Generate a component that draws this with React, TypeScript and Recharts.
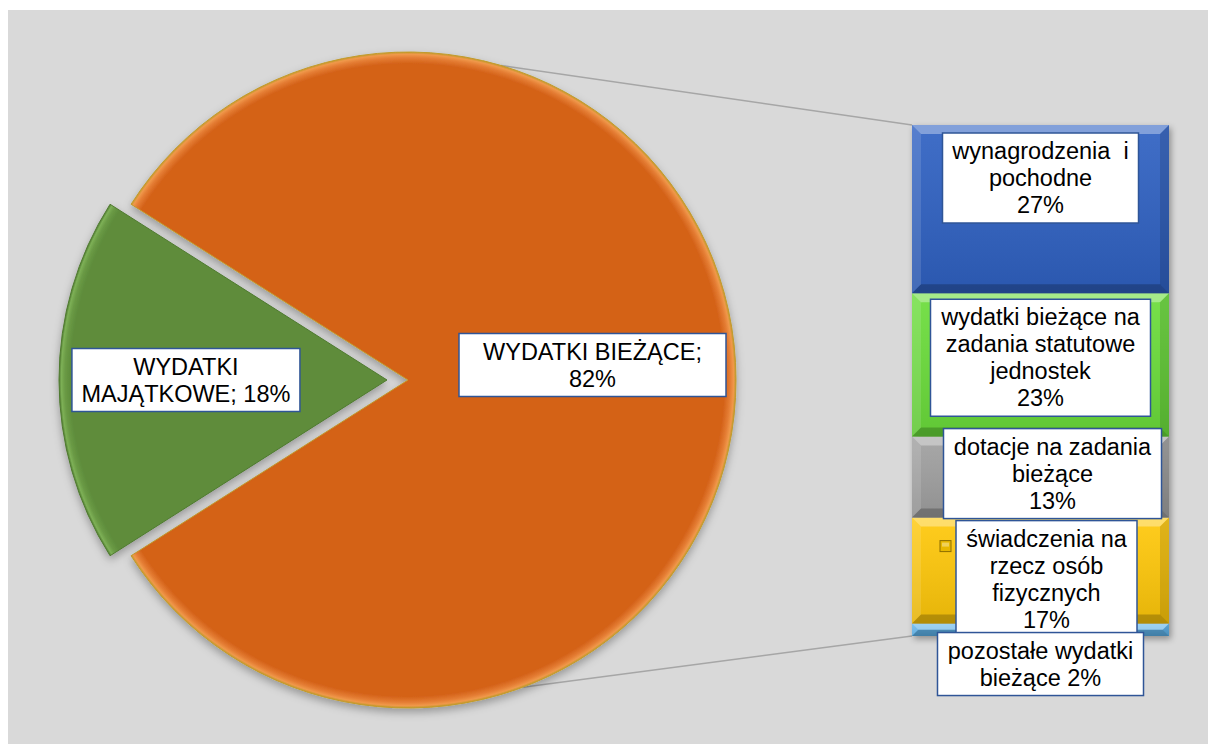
import React from "react";
import { PieChart, Pie, Cell, BarChart, Bar, XAxis, YAxis, LabelList } from "recharts";

// dane - koło
const pieNames = ["WYDATKI BIEŻĄCE;", "WYDATKI\nMAJĄTKOWE;"];
const pieValues = [82, 18];
const pieSep = ["\n", " "];

// dane - słupek (od dołu do góry)
const barNames = [
  "pozostałe wydatki\nbieżące",
  "świadczenia na\nrzecz osób\nfizycznych",
  "dotacje na zadania\nbieżące",
  "wydatki bieżące na\nzadania statutowe\njednostek",
  "wynagrodzenia  i\npochodne",
];
const barValues = [2, 17, 13, 23, 27];
const barSep = [" ", "\n", "\n", "\n", "\n"];

const pieColors = ["#D46219", "#5E8C3B"];
const pieRims = [
  ["#E47C33", "#F0984A", "#C29A2A"],
  ["#6A9A45", "#7DB056", "#4F7A30"],
];
const barColors = ["#5CB4EE", "#FFC80A", "#A0A0A0", "#6BDD3B", "#2F61C2"];

// wygląd etykiet
const pieLabelStyle = [
  { r: 0.5625, dy: -15, width: 267 },
  { r: 0.613, dy: 0, width: 228 },
];
const barLabelStyle = [
  { dy: 9, dx: 0, width: 206, key: false },
  { dy: 3, dx: 6, width: 181, key: true },
  { dy: -8, dx: 12, width: 218, key: false },
  { dy: 6, dx: 0, width: 220, key: false },
  { dy: 8, dx: 0, width: 196, key: false },
];

const W = 1200;
const H = 734;
const FONT = "'Liberation Sans', Arial, sans-serif";
const FONT_SIZE = 23.5;
const LINE_H = 27;

const PIE_CX = 400;
const PIE_CY = 370;
const PIE_R = 328;
const EXPLODE = 21;
const START = 180 + (pieValues[1] / 100) * 180;
const CONNECT_ANGLES = [73.5, -69.5];

const BAR_LEFT = 904;
const BAR_TOP = 115;
const BAR_W = 257;
const BAR_H = 511;
const BAR_MARGIN = { top: 20, right: 30, bottom: 90, left: 20 };

const pieData = pieNames.map((name, i) => ({ name, value: pieValues[i] }));
const barRow: Record<string, any> = { name: "WYDATKI BIEŻĄCE" };
barValues.forEach((v, i) => (barRow[`s${i}`] = v));
const barData = [barRow];
const barTotal = barValues.reduce((a, b) => a + b, 0);

const LabelBox = ({ cx, top, width, lines, keyColor }: any) => {
  const h = lines.length * LINE_H + 9;
  const left = cx - width / 2;
  return (
    <g>
      <rect x={left} y={top} width={width} height={h} fill="#fff" stroke="#2F5597" strokeWidth={1.5} />
      {keyColor && (
        <g>
          <rect x={left - 16} y={top + 20} width={11} height={11} fill={keyColor} stroke="#8C6D00" strokeWidth={1} />
          <rect x={left - 14} y={top + 22} width={7} height={4} fill="#fff" fillOpacity={0.35} />
        </g>
      )}
      <text
        textAnchor="middle"
        fontFamily={FONT}
        fontSize={FONT_SIZE}
        fill="#000"
        style={{ whiteSpace: "pre" }}
      >
        {lines.map((l: string, i: number) => (
          <tspan key={i} x={cx} y={top + 26 + i * LINE_H}>
            {l}
          </tspan>
        ))}
      </text>
    </g>
  );
};

const pieLabel = (which: number) => (p: any) => {
  if (p.index !== which) return <g />;
  const st = pieLabelStyle[which];
  const RAD = Math.PI / 180;
  const r = p.outerRadius * st.r;
  const x = p.cx + r * Math.cos(-p.midAngle * RAD);
  const y = p.cy + r * Math.sin(-p.midAngle * RAD) + st.dy;
  const lines = (pieNames[which] + pieSep[which] + pieValues[which] + "%").split("\n");
  const h = lines.length * LINE_H + 9;
  return <LabelBox cx={x} top={y - h / 2} width={st.width} lines={lines} />;
};

const barLabel = (i: number) => (props: any) => {
  const vb = props.viewBox ?? props;
  const x = vb.x ?? props.x;
  const y = vb.y ?? props.y;
  const w = vb.width ?? props.width;
  const st = barLabelStyle[i];
  const lines = (barNames[i] + barSep[i] + barValues[i] + "%").split("\n");
  return (
    <LabelBox
      cx={x + w / 2 + st.dx}
      top={y + st.dy}
      width={st.width}
      lines={lines}
      keyColor={st.key ? "#E8B800" : undefined}
    />
  );
};

const BevelBar = (p: any) => {
  const { x, y, width: w, height: h, fill } = p;
  if (!w || !h) return <g />;
  const b = Math.min(9, h / 2, w / 2);
  const pts = (a: number[][]) => a.map((q) => q.join(",")).join(" ");
  return (
    <g>
      <rect x={x} y={y} width={w} height={h} fill={fill} />
      <rect x={x} y={y} width={w} height={h} fill="url(#barShade)" />
      <polygon points={pts([[x, y], [x + w, y], [x + w - b, y + b], [x + b, y + b]])} fill="#fff" fillOpacity={0.35} />
      <polygon points={pts([[x, y], [x + b, y + b], [x + b, y + h - b], [x, y + h]])} fill="#fff" fillOpacity={0.12} />
      <polygon points={pts([[x + w, y], [x + w, y + h], [x + w - b, y + h - b], [x + w - b, y + b]])} fill="#000" fillOpacity={0.12} />
      <polygon points={pts([[x, y + h], [x + b, y + h - b], [x + w - b, y + h - b], [x + w, y + h]])} fill="#000" fillOpacity={0.22} />
    </g>
  );
};

const Empty = () => <g />;

// ten sam słupek rysowany kilka razy: słupki, potem etykiety (kolejność nakładania)
const StackBars = ({ bars, labels }: { bars: boolean; labels: number[] }) => (
  <div
    style={{
      position: "absolute",
      left: BAR_LEFT - BAR_MARGIN.left,
      top: BAR_TOP - BAR_MARGIN.top,
      filter: bars ? "drop-shadow(2px 3px 3px rgba(0,0,0,0.35))" : undefined,
    }}
  >
    <BarChart
      width={BAR_W + BAR_MARGIN.left + BAR_MARGIN.right}
      height={BAR_H + BAR_MARGIN.top + BAR_MARGIN.bottom}
      data={barData}
      margin={BAR_MARGIN}
      barCategoryGap={0}
      barGap={0}
    >
      <defs>
        <linearGradient id="barShade" x1="0" y1="0" x2="0" y2="1">
          <stop offset="0" stopColor="#fff" stopOpacity={0.08} />
          <stop offset="1" stopColor="#000" stopOpacity={0.1} />
        </linearGradient>
      </defs>
      <XAxis dataKey="name" hide />
      <YAxis hide domain={[0, barTotal]} />
      {barValues.map((_, i) => (
        <Bar
          key={i}
          dataKey={`s${i}`}
          stackId="a"
          fill={barColors[i]}
          shape={bars ? BevelBar : Empty}
          isAnimationActive={false}
        >
          {labels.includes(i) && <LabelList content={barLabel(i)} />}
        </Bar>
      ))}
    </BarChart>
  </div>
);

export default function App() {
  const RAD = Math.PI / 180;
  const connectors = CONNECT_ANGLES.map((a, i) => ({
    x1: PIE_CX + PIE_R * Math.cos(a * RAD),
    y1: PIE_CY - PIE_R * Math.sin(a * RAD),
    x2: BAR_LEFT,
    y2: i === 0 ? BAR_TOP : BAR_TOP + BAR_H,
  }));

  return (
    <div style={{ padding: "10px 0 0 8px" }}>
      <style>{"body{margin:0;overflow:hidden}"}</style>
      <div
        style={{
          position: "relative",
          width: W,
          height: H,
          background: "#D9D9D9",
          overflow: "hidden",
          fontFamily: FONT,
        }}
      >
        <svg width={W} height={H} style={{ position: "absolute", left: 0, top: 0 }}>
          {connectors.map((c, i) => (
            <line key={i} {...c} stroke="#A6A6A6" strokeWidth={1.5} />
          ))}
        </svg>

        <div style={{ position: "absolute", left: 0, top: 0 }}>
          <PieChart width={W} height={H} margin={{ top: 0, right: 0, bottom: 0, left: 0 }}>
            <defs>
              <filter id="pieShadow" x="-10%" y="-10%" width="120%" height="125%">
                <feDropShadow dx="0" dy="4" stdDeviation="4" floodColor="#000" floodOpacity="0.3" />
              </filter>
              {pieColors.map((c, i) => (
                <radialGradient
                  key={i}
                  id={`pieGrad${i}`}
                  gradientUnits="userSpaceOnUse"
                  cx={PIE_CX - (i === 1 ? EXPLODE : 0)}
                  cy={PIE_CY}
                  r={PIE_R}
                >
                  <stop offset="0" stopColor={c} />
                  <stop offset="0.965" stopColor={c} />
                  <stop offset="0.982" stopColor={pieRims[i][0]} />
                  <stop offset="0.993" stopColor={pieRims[i][1]} />
                  <stop offset="1" stopColor={pieRims[i][2]} />
                </radialGradient>
              ))}
            </defs>
            {[0, 1].map((which) => (
              <Pie
                key={which}
                data={pieData}
                dataKey="value"
                nameKey="name"
                cx={PIE_CX - (which === 1 ? EXPLODE : 0)}
                cy={PIE_CY}
                outerRadius={PIE_R}
                startAngle={START}
                endAngle={START + 360}
                labelLine={false}
                label={pieLabel(which)}
                isAnimationActive={false}
              >
                {pieData.map((_, i) => (
                  <Cell
                    key={`cell-${i}`}
                    fill={i === which ? `url(#pieGrad${i})` : "none"}
                    stroke={i === which ? pieRims[i][2] : "none"}
                    strokeWidth={1}
                    filter={i === which ? "url(#pieShadow)" : undefined}
                  />
                ))}
              </Pie>
            ))}
          </PieChart>
        </div>

        <StackBars bars={true} labels={[]} />
        <StackBars bars={false} labels={[1, 2, 3, 4]} />
        <StackBars bars={false} labels={[0]} />
      </div>
    </div>
  );
}
